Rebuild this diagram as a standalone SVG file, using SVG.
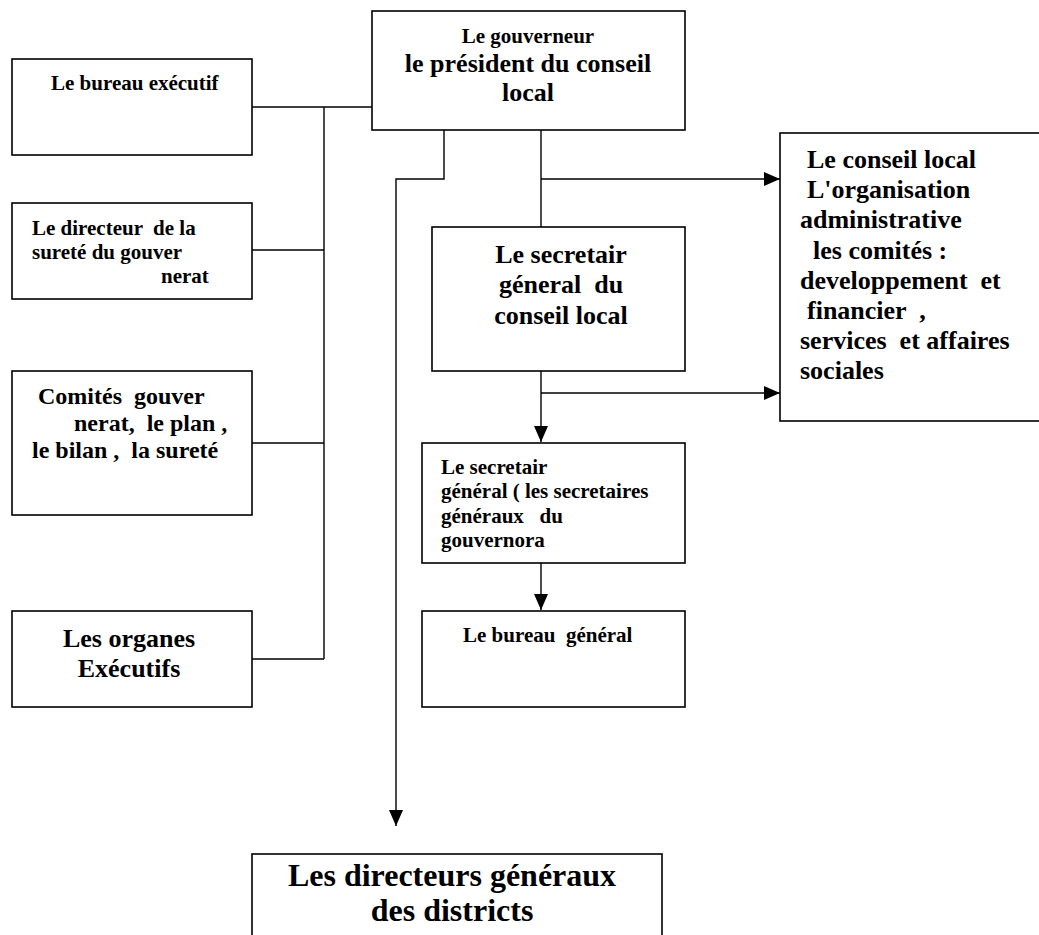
<svg xmlns="http://www.w3.org/2000/svg" width="1039" height="935" viewBox="0 0 1039 935">
<style>
.box{fill:#fff;stroke:#000;stroke-width:1.6}
.ln{fill:none;stroke:#000;stroke-width:1.4}
text{font-family:"Liberation Serif","Times New Roman",serif;font-weight:bold;fill:#000}
.s21{font-size:21px}
.s24{font-size:24px}
.s26{font-size:26px}
.s32{font-size:32px}
.c{text-anchor:middle}
</style>
<defs>
<marker id="ah" viewBox="0 0 16 14" refX="16" refY="7" markerWidth="16" markerHeight="14" orient="auto" markerUnits="userSpaceOnUse">
<path d="M0,0 L16,7 L0,14 z" fill="#000"/>
</marker>
</defs>
<g id="connectors">
<path class="ln" d="M252,107 H372"/>
<path class="ln" d="M324,107 V659"/>
<path class="ln" d="M252,250 H324"/>
<path class="ln" d="M252,443 H324"/>
<path class="ln" d="M252,659 H324"/>
<path class="ln" d="M444,130 V179 H396 V826" marker-end="url(#ah)"/>
<path class="ln" d="M541,130 V227"/>
<path class="ln" d="M541,179 H780" marker-end="url(#ah)"/>
<path class="ln" d="M541,371 V442" marker-end="url(#ah)"/>
<path class="ln" d="M541,393 H780" marker-end="url(#ah)"/>
<path class="ln" d="M541,563 V610" marker-end="url(#ah)"/>
</g>
<g id="n-gouverneur">
<rect class="box" x="372" y="11" width="313" height="119"/>
<text class="s21 c" x="528" y="43">Le gouverneur</text>
<text class="s26 c" x="528" y="72">le président du conseil</text>
<text class="s26 c" x="528" y="101">local</text>
</g>
<g id="n-bureau-executif">
<rect class="box" x="12" y="59" width="240" height="96"/>
<text class="s21" x="51" y="90">Le bureau exécutif</text>
</g>
<g id="n-directeur-surete">
<rect class="box" x="12" y="203" width="240" height="96"/>
<text class="s21" x="32" y="235" xml:space="preserve">Le directeur  de la</text>
<text class="s21" x="32" y="259">sureté du gouver</text>
<text class="s21" x="161" y="283">nerat</text>
</g>
<g id="n-comites">
<rect class="box" x="12" y="371" width="240" height="144"/>
<text class="s24" x="38" y="404" xml:space="preserve">Comités  gouver</text>
<text class="s24" x="74" y="431" xml:space="preserve">nerat,  le plan ,</text>
<text class="s24" x="32" y="458" xml:space="preserve">le bilan ,  la sureté</text>
</g>
<g id="n-organes">
<rect class="box" x="12" y="611" width="240" height="96"/>
<text class="s26 c" x="129" y="647">Les organes</text>
<text class="s26 c" x="129" y="677">Exécutifs</text>
</g>
<g id="n-secretaire-conseil">
<rect class="box" x="432" y="227" width="253" height="144"/>
<text class="s26 c" x="561" y="263">Le secretair</text>
<text class="s26 c" x="561" y="293" xml:space="preserve">géneral  du</text>
<text class="s26 c" x="561" y="324">conseil local</text>
</g>
<g id="n-conseil-local">
<rect class="box" x="780" y="133" width="265" height="288"/>
<text class="s26" x="807" y="168">Le conseil local</text>
<text class="s26" x="807" y="198">L'organisation</text>
<text class="s26" x="800" y="228">administrative</text>
<text class="s26" x="813" y="259">les comités :</text>
<text class="s26" x="800" y="289" xml:space="preserve">developpement  et</text>
<text class="s26" x="807" y="319" xml:space="preserve">financier  ,</text>
<text class="s26" x="800" y="349" xml:space="preserve">services  et affaires</text>
<text class="s26" x="800" y="379">sociales</text>
</g>
<g id="n-secretaire-general">
<rect class="box" x="422" y="443" width="263" height="120"/>
<text class="s21" x="441" y="474">Le secretair</text>
<text class="s21" x="441" y="498">général ( les secretaires</text>
<text class="s21" x="441" y="523" xml:space="preserve">généraux   du</text>
<text class="s21" x="441" y="547">gouvernora</text>
</g>
<g id="n-bureau-general">
<rect class="box" x="422" y="611" width="263" height="96"/>
<text class="s21" x="463" y="642" xml:space="preserve">Le bureau  général</text>
</g>
<g id="n-directeurs-generaux">
<rect class="box" x="252" y="854" width="410" height="90"/>
<text class="s32 c" x="452" y="886">Les directeurs généraux</text>
<text class="s32 c" x="452" y="921">des districts</text>
</g>
</svg>
